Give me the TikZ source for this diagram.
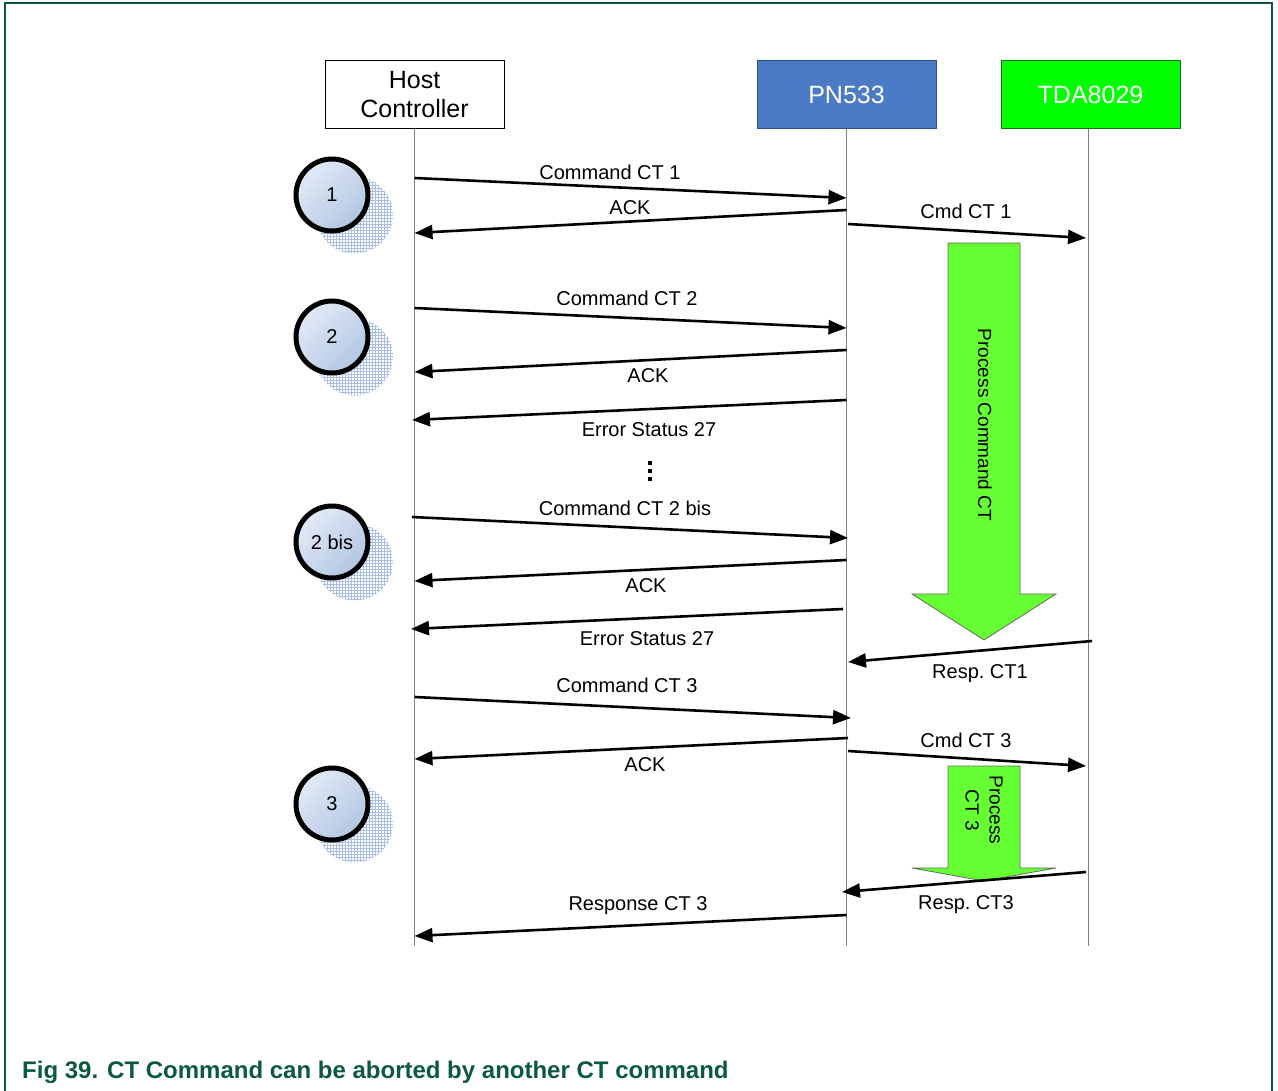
\documentclass[tikz,border=0pt]{standalone}
\usepackage{fontspec}
\setmainfont{Liberation Sans}
\usetikzlibrary{arrows.meta,positioning,patterns,calc}
\definecolor{nxpgreen}{HTML}{0B5A3C}
\definecolor{pnblue}{HTML}{4A7BC4}
\definecolor{pnedge}{HTML}{2F528F}
\definecolor{tdagreen}{HTML}{00FF00}
\definecolor{tdaedge}{HTML}{1E6B1E}
\definecolor{procgreen}{HTML}{66FF33}
\definecolor{stepA}{HTML}{E2EAF6}
\definecolor{stepB}{HTML}{B2C6E2}
\definecolor{shadowgrid}{HTML}{A9BFE8}
\tikzset{
  hdr/.style={draw, line width=1pt, minimum width=179pt, minimum height=68pt, align=center, font=\fontsize{25}{29}\selectfont, inner sep=0pt},
  life/.style={draw=black!50, line width=1pt},
  msg/.style={-{Triangle[length=18pt,width=14pt]}, line width=2.6pt},
  lbl/.style={font=\fontsize{20}{24}\selectfont, anchor=base, inner sep=0pt},
  stepnum/.style={circle, draw=black, line width=5pt, minimum size=72pt, top color=stepA, bottom color=stepB, shading angle=45, font=\fontsize{20}{24}\selectfont, inner sep=0pt},
  stepshadow/.style={circle, minimum size=77pt, pattern=grid, pattern color=shadowgrid},
  proc/.style={fill=procgreen, draw=black!60, line width=0.8pt},
  proclbl/.style={rotate=-90, font=\fontsize{19}{24}\selectfont, align=center, inner sep=0pt},
}
\begin{document}
\begin{tikzpicture}[x=1pt, y=-1pt]
  \useasboundingbox (0,0) rectangle (1278,1091);
  \draw[nxpgreen, line width=2pt] (5,1091) -- (5,3) -- (1272,3) -- (1272,1091);

  % lifeline heads
  \node[hdr, fill=white] (host) at (414.5,95) {Host\\Controller};
  \node[hdr, fill=pnblue, draw=pnedge, text=white] (pn) at (846.5,95) {PN533};
  \node[hdr, fill=tdagreen, draw=tdaedge, text=white] (tda) at (1090.5,95) {TDA8029};
  \draw[life] (host.south) -- (host.south |- 0,946);
  \draw[life] (pn.south) -- (pn.south |- 0,946);
  \draw[life] (1088,129) -- (1088,946);

  % steps
  \foreach \n/\y/\t in {s1/195/1, s2/337/2, s2b/542/2 bis, s3/804/3} {
    \node[stepshadow] (\n sh) at (354.5,\y+20) {};
    \node[stepnum] (\n) at (332,\y) {\t};
  }

  % processing in TDA8029
  \draw[proc] (948,243) -- (1020,243) -- (1020,594) -- (1056,594) -- (984,640) -- (912,594) -- (948,594) -- cycle;
  \node[proclbl] (proc1) at (985,425) {Process Command CT};
  \draw[proc] (948,766) -- (1020,766) -- (1020,868) -- (1056,868) -- (984,881) -- (912,868) -- (948,868) -- cycle;
  \node[proclbl] (proc3) at (984,810) {Process\\CT 3};

  % messages
  \draw[msg] (host |- 0,178) -- (pn |- 0,198);
  \node[lbl] (m1) at (610,180) {Command CT 1};
  \draw[msg] (pn |- 0,210) -- (host |- 0,233);
  \node[lbl] (m2) at (630,215) {ACK};
  \draw[msg] (848,224) -- (1086,238);
  \node[lbl] (m3) at (966,219) {Cmd CT 1};

  \draw[msg] (host |- 0,308) -- (pn |- 0,328);
  \node[lbl] (m4) at (627,306) {Command CT 2};
  \draw[msg] (pn |- 0,350) -- (host |- 0,372);
  \node[lbl] (m5) at (648,383) {ACK};
  \draw[msg] (pn |- 0,400) -- (412,420);
  \node[lbl] (m6) at (649,436) {Error Status 27};
  \foreach \d in {463,471,479}
    \fill (648,\d-2) rectangle ++(4,4);

  \draw[msg] (412,517) -- (848,538);
  \node[lbl] (m7) at (625,515) {Command CT 2 bis};
  \draw[msg] (pn |- 0,560) -- (host |- 0,581);
  \node[lbl] (m8) at (646,592) {ACK};
  \draw[msg] (843,609) -- (411,629);
  \node[lbl] (m9) at (647,645) {Error Status 27};

  \draw[msg] (1092,641) -- (848,662);
  \node[lbl] (m10) at (980,678) {Resp.\ CT1};
  \draw[msg] (host |- 0,697) -- (851,718);
  \node[lbl] (m11) at (627,692) {Command CT 3};
  \draw[msg] (848,738) -- (host |- 0,759);
  \node[lbl] (m12) at (645,771) {ACK};
  \draw[msg] (848,751) -- (1086,766);
  \node[lbl] (m13) at (966,747) {Cmd CT 3};

  \draw[msg] (1086,872) -- (842,892);
  \node[lbl] (m14) at (966,909) {Resp.\ CT3};
  \draw[msg] (pn |- 0,915) -- (host |- 0,936);
  \node[lbl] (m15) at (638,910) {Response CT 3};

  \node[font=\fontsize{24}{28}\selectfont\bfseries, text=nxpgreen, anchor=base west, inner sep=0pt] (cap) at (22,1078) {Fig 39.\hspace{9pt}CT Command can be aborted by another CT command};
\end{tikzpicture}
\end{document}
